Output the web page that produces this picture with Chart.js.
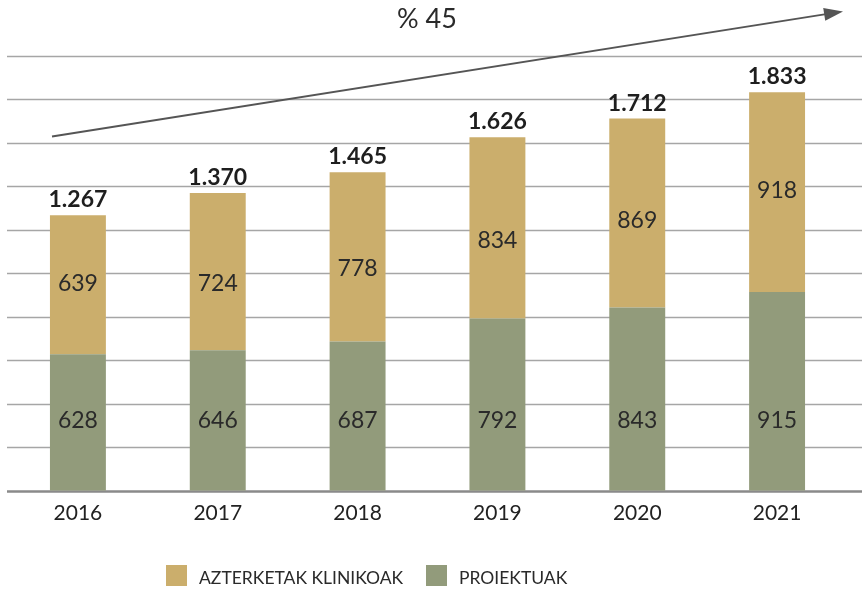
<!DOCTYPE html>
<html>
<head>
<meta charset="utf-8">
<script src="https://cdn.jsdelivr.net/npm/chart.js@4/dist/chart.umd.min.js"></script>
<style>
  html, body { margin: 0; padding: 0; background: #fff; }
  #wrap { width: 862px; height: 591px; position: relative; }
</style>
</head>
<body>
<div id="wrap"><canvas id="chart" width="862" height="591"></canvas></div>
<script>
const years = ["2016", "2017", "2018", "2019", "2020", "2021"];
const proiektuak = [628, 646, 687, 792, 843, 915];
const azterketak = [639, 724, 778, 834, 869, 918];
const totals = [1267, 1370, 1465, 1626, 1712, 1833];
const growthLabel = "% 45";

const FONT = "Lato, 'Noto Sans', sans-serif";
const GOLD = "#cbae6c";
const GREEN = "#929b7b";

function fmt(n) {
    return String(n).replace(/\B(?=(\d{3})+(?!\d))/g, ".");
}

// gridlines across the full width, axis line, labels, arrow, legend
const decor = {
    id: "decor",
    beforeDatasetsDraw(chart) {
        const ctx = chart.ctx;
        const y = chart.scales.y;
        ctx.save();
        for (let v = y.min; v <= y.max; v += 200) {
            const py = Math.round(y.getPixelForValue(v)) + 0.5;
            ctx.beginPath();
            if (v === 0) {
                ctx.strokeStyle = "#8a8a8a";
                ctx.lineWidth = 2.5;
            } else {
                ctx.strokeStyle = "#a6a6a6";
                ctx.lineWidth = 1.5;
            }
            ctx.moveTo(7, py);
            ctx.lineTo(862, py);
            ctx.stroke();
        }
        ctx.restore();
    },
    afterDatasetsDraw(chart, args, opts) {
        const ctx = chart.ctx;
        const y = chart.scales.y;
        const x = chart.scales.x;
        ctx.save();

        // values inside segments (placed at the heights used in the original)
        ctx.fillStyle = "#2a2a2a";
        ctx.textAlign = "center";
        ctx.textBaseline = "middle";
        ctx.font = "23px " + FONT;
        chart.data.datasets.forEach((ds, di) => {
            const meta = chart.getDatasetMeta(di);
            const at = opts.labelAt[di];
            meta.data.forEach((bar, i) => {
                ctx.fillText(ds.data[i], bar.x, y.getPixelForValue(at[i]));
            });
        });

        // totals above bars
        ctx.font = "bold 23px " + FONT;
        ctx.textBaseline = "alphabetic";
        ctx.fillStyle = "#1e1e1e";
        totals.forEach((t, i) => {
            ctx.fillText(fmt(t), x.getPixelForValue(i), y.getPixelForValue(t) - 8);
        });

        // growth arrow
        const x0 = 52, y0 = y.getPixelForValue(1630);
        const x1 = 843, y1 = y.getPixelForValue(2205);
        const ang = Math.atan2(y1 - y0, x1 - x0);
        ctx.strokeStyle = "#555";
        ctx.fillStyle = "#555";
        ctx.lineWidth = 2;
        ctx.beginPath();
        ctx.moveTo(x0, y0);
        ctx.lineTo(x1 - 14 * Math.cos(ang), y1 - 14 * Math.sin(ang));
        ctx.stroke();
        ctx.beginPath();
        ctx.moveTo(x1, y1);
        ctx.lineTo(x1 - 19 * Math.cos(ang) - 6.5 * Math.sin(ang), y1 - 19 * Math.sin(ang) + 6.5 * Math.cos(ang));
        ctx.lineTo(x1 - 19 * Math.cos(ang) + 6.5 * Math.sin(ang), y1 - 19 * Math.sin(ang) - 6.5 * Math.cos(ang));
        ctx.closePath();
        ctx.fill();

        ctx.fillStyle = "#2a2a2a";
        ctx.font = "27px " + FONT;
        ctx.textAlign = "center";
        ctx.fillText(growthLabel, 427, 28);

        // legend
        ctx.font = "17.5px " + FONT;
        ctx.textAlign = "left";
        ctx.textBaseline = "middle";
        const items = [chart.data.datasets[1], chart.data.datasets[0]];
        const starts = [166, 426];
        items.forEach((ds, k) => {
            ctx.fillStyle = ds.backgroundColor;
            ctx.fillRect(starts[k], 565, 21, 21);
            ctx.fillStyle = "#2a2a2a";
            ctx.fillText(ds.label, starts[k] + 33, 578);
        });
        ctx.restore();
    }
};

new Chart(document.getElementById("chart"), {
    type: "bar",
    data: {
        labels: years,
        datasets: [
            { label: "PROIEKTUAK", data: proiektuak, backgroundColor: GREEN, stack: "s" },
            { label: "AZTERKETAK KLINIKOAK", data: azterketak, backgroundColor: GOLD, stack: "s" }
        ]
    },
    options: {
        responsive: false,
        animation: false,
        layout: { padding: { top: 56, left: 8, right: 15, bottom: 55 } },
        datasets: { bar: { categoryPercentage: 0.4, barPercentage: 1 } },
        plugins: {
            legend: { display: false },
            tooltip: { enabled: false },
            decor: {
                labelAt: [
                    [325, 325, 325, 325, 325, 325],
                    [952, 952, 1023, 1153, 1245, 1381]
                ]
            }
        },
        scales: {
            x: {
                stacked: true,
                grid: { display: false, drawTicks: false },
                border: { display: false },
                ticks: { color: "#222", font: { family: FONT, size: 21 }, padding: 10 }
            },
            y: {
                display: false,
                stacked: true,
                min: 0,
                max: 2000
            }
        }
    },
    plugins: [decor]
});
</script>
</body>
</html>
